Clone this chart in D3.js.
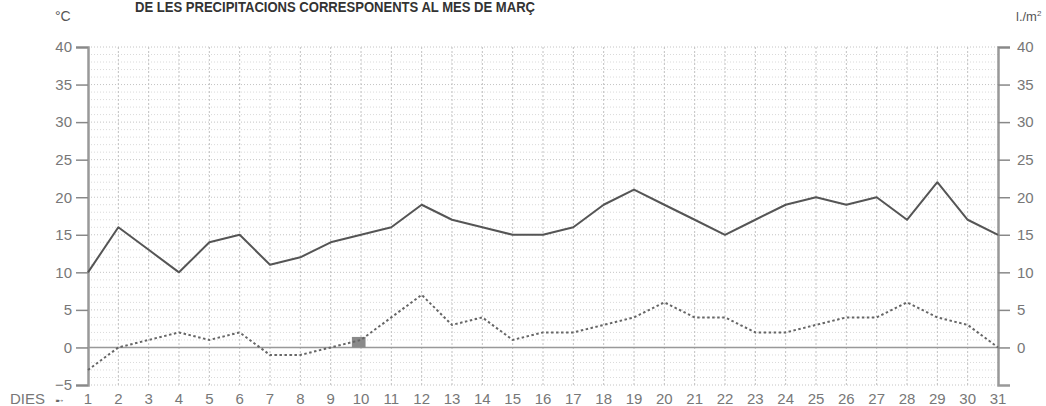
<!DOCTYPE html>
<html lang="ca">
<head>
<meta charset="utf-8">
<title>Precipitacions març</title>
<script src="https://d3js.org/d3.v7.min.js"></script>
<style>
  body { margin: 0; background: #fff; }
  svg text { font-family: "Liberation Sans Narrow", "Arial Narrow", "Liberation Sans", sans-serif; fill: #777; }
</style>
</head>
<body>
<div id="chart"></div>
<script>
// days of the month
var days = d3.range(1, 32);

// solid line (temperature)
var tempValues = [10, 16, 13, 10, 14, 15, 11, 12, 14, 15, 16, 19, 17, 16, 15, 15,
                  16, 19, 21, 19, 17, 15, 17, 19, 20, 19, 20, 17, 22, 17, 15];

// dotted line
var dottedValues = [-3, 0, 1, 2, 1, 2, -1, -1, 0, 1, 4, 7, 3, 4, 1, 2,
                    2, 3, 4, 6, 4, 4, 2, 2, 3, 4, 4, 6, 4, 3, 0];

// precipitation bar(s)
var barDays = [10];
var barValues = [1.4];

var leftTicks = [-5, 0, 5, 10, 15, 20, 25, 30, 35, 40];
var rightTicks = [0, 5, 10, 15, 20, 25, 30, 35, 40];

var width = 1046, height = 406;
var svg = d3.select("#chart").append("svg")
    .attr("width", width)
    .attr("height", height);

var x = d3.scaleLinear().domain([1, 31]).range([88, 998]);
var y = d3.scaleLinear().domain([-5, 40]).range([385, 47]);

// title
svg.append("text")
    .attr("x", 135)
    .attr("y", 12)
    .attr("textLength", 400)
    .attr("lengthAdjust", "spacingAndGlyphs")
    .style("font-size", "14px")
    .style("font-weight", "bold")
    .style("fill", "#333")
    .text("DE LES PRECIPITACIONS CORRESPONENTS AL MES DE MARÇ");

svg.append("text").attr("x", 55).attr("y", 21)
    .style("font-size", "14px").style("fill", "#555").text("°C");
svg.append("text").attr("x", 1016).attr("y", 21)
    .style("font-size", "13px").style("fill", "#555")
    .html("l./m<tspan dy='-5' style='font-size:8px'>2</tspan>");

// grid: horizontal every unit
var grid = svg.append("g");
grid.selectAll(".hg")
    .data(d3.range(-5, 41))
    .enter().append("line")
    .attr("x1", x(1)).attr("x2", x(31))
    .attr("y1", function(d) { return y(d); })
    .attr("y2", function(d) { return y(d); })
    .attr("stroke", function(d) { return d % 5 === 0 ? "#c4c4c4" : "#dadada"; })
    .attr("stroke-width", 1)
    .attr("stroke-dasharray", "1,2");

// grid: vertical per day
grid.selectAll(".vg")
    .data(days.slice(1, 30))
    .enter().append("line")
    .attr("x1", function(d) { return x(d); })
    .attr("x2", function(d) { return x(d); })
    .attr("y1", y(40)).attr("y2", y(-5))
    .attr("stroke", "#c0c0c0")
    .attr("stroke-width", 1)
    .attr("stroke-dasharray", "2,2");

// zero line
svg.append("line")
    .attr("x1", x(1)).attr("x2", x(31))
    .attr("y1", y(0)).attr("y2", y(0))
    .attr("stroke", "#999").attr("stroke-width", 1.5);

// left axis
var leftAxis = svg.append("g")
    .attr("transform", "translate(" + x(1) + ",0)")
    .call(d3.axisLeft(y).tickValues(leftTicks).tickSize(12).tickPadding(4)
        .tickFormat(function(d) { return d < 0 ? "\u2212" + (-d) : d; }));
// right axis
var rightAxis = svg.append("g")
    .attr("transform", "translate(" + x(31) + ",0)")
    .call(d3.axisRight(y).tickValues(rightTicks).tickSize(12).tickPadding(7));

[leftAxis, rightAxis].forEach(function(ax) {
  ax.select(".domain").attr("stroke", "#999").attr("stroke-width", 2.5);
  ax.selectAll(".tick line").attr("stroke", "#888").attr("stroke-width", 1.5);
  ax.selectAll(".tick text").style("font-size", "15px").attr("fill", "#777")
    .style("font-family", "'Liberation Sans Narrow', 'Arial Narrow', sans-serif");
});

// bottom labels
svg.append("g").selectAll("text")
    .data(days)
    .enter().append("text")
    .attr("x", function(d) { return x(d); })
    .attr("y", 404)
    .attr("text-anchor", "middle")
    .style("font-size", "15px")
    .text(function(d) { return d; });

svg.append("text").attr("x", 10).attr("y", 404)
    .style("font-size", "15px").text("DIES");
svg.append("text").attr("x", 55).attr("y", 404)
    .style("font-size", "10px")
    .style("font-family", "'DejaVu Sans', sans-serif")
    .style("fill", "#666")
    .text("\u27B8");

// bar
svg.selectAll(".bar")
    .data(barDays)
    .enter().append("rect")
    .attr("x", function(d) { return x(d - 0.3); })
    .attr("width", function(d) { return x(d + 0.15) - x(d - 0.3); })
    .attr("y", function(d, i) { return y(barValues[i]); })
    .attr("height", function(d, i) { return y(0) - y(barValues[i]); })
    .attr("fill", "#8a8a8a");

var line = d3.line()
    .x(function(d, i) { return x(days[i]); })
    .y(function(d) { return y(d); });

svg.append("path")
    .datum(dottedValues)
    .attr("fill", "none")
    .attr("stroke", "#666")
    .attr("stroke-width", 2)
    .attr("stroke-dasharray", "2.5,2.5")
    .attr("d", line);

svg.append("path")
    .datum(tempValues)
    .attr("fill", "none")
    .attr("stroke", "#555")
    .attr("stroke-width", 2)
    .attr("stroke-linejoin", "round")
    .attr("d", line);
</script>
</body>
</html>
